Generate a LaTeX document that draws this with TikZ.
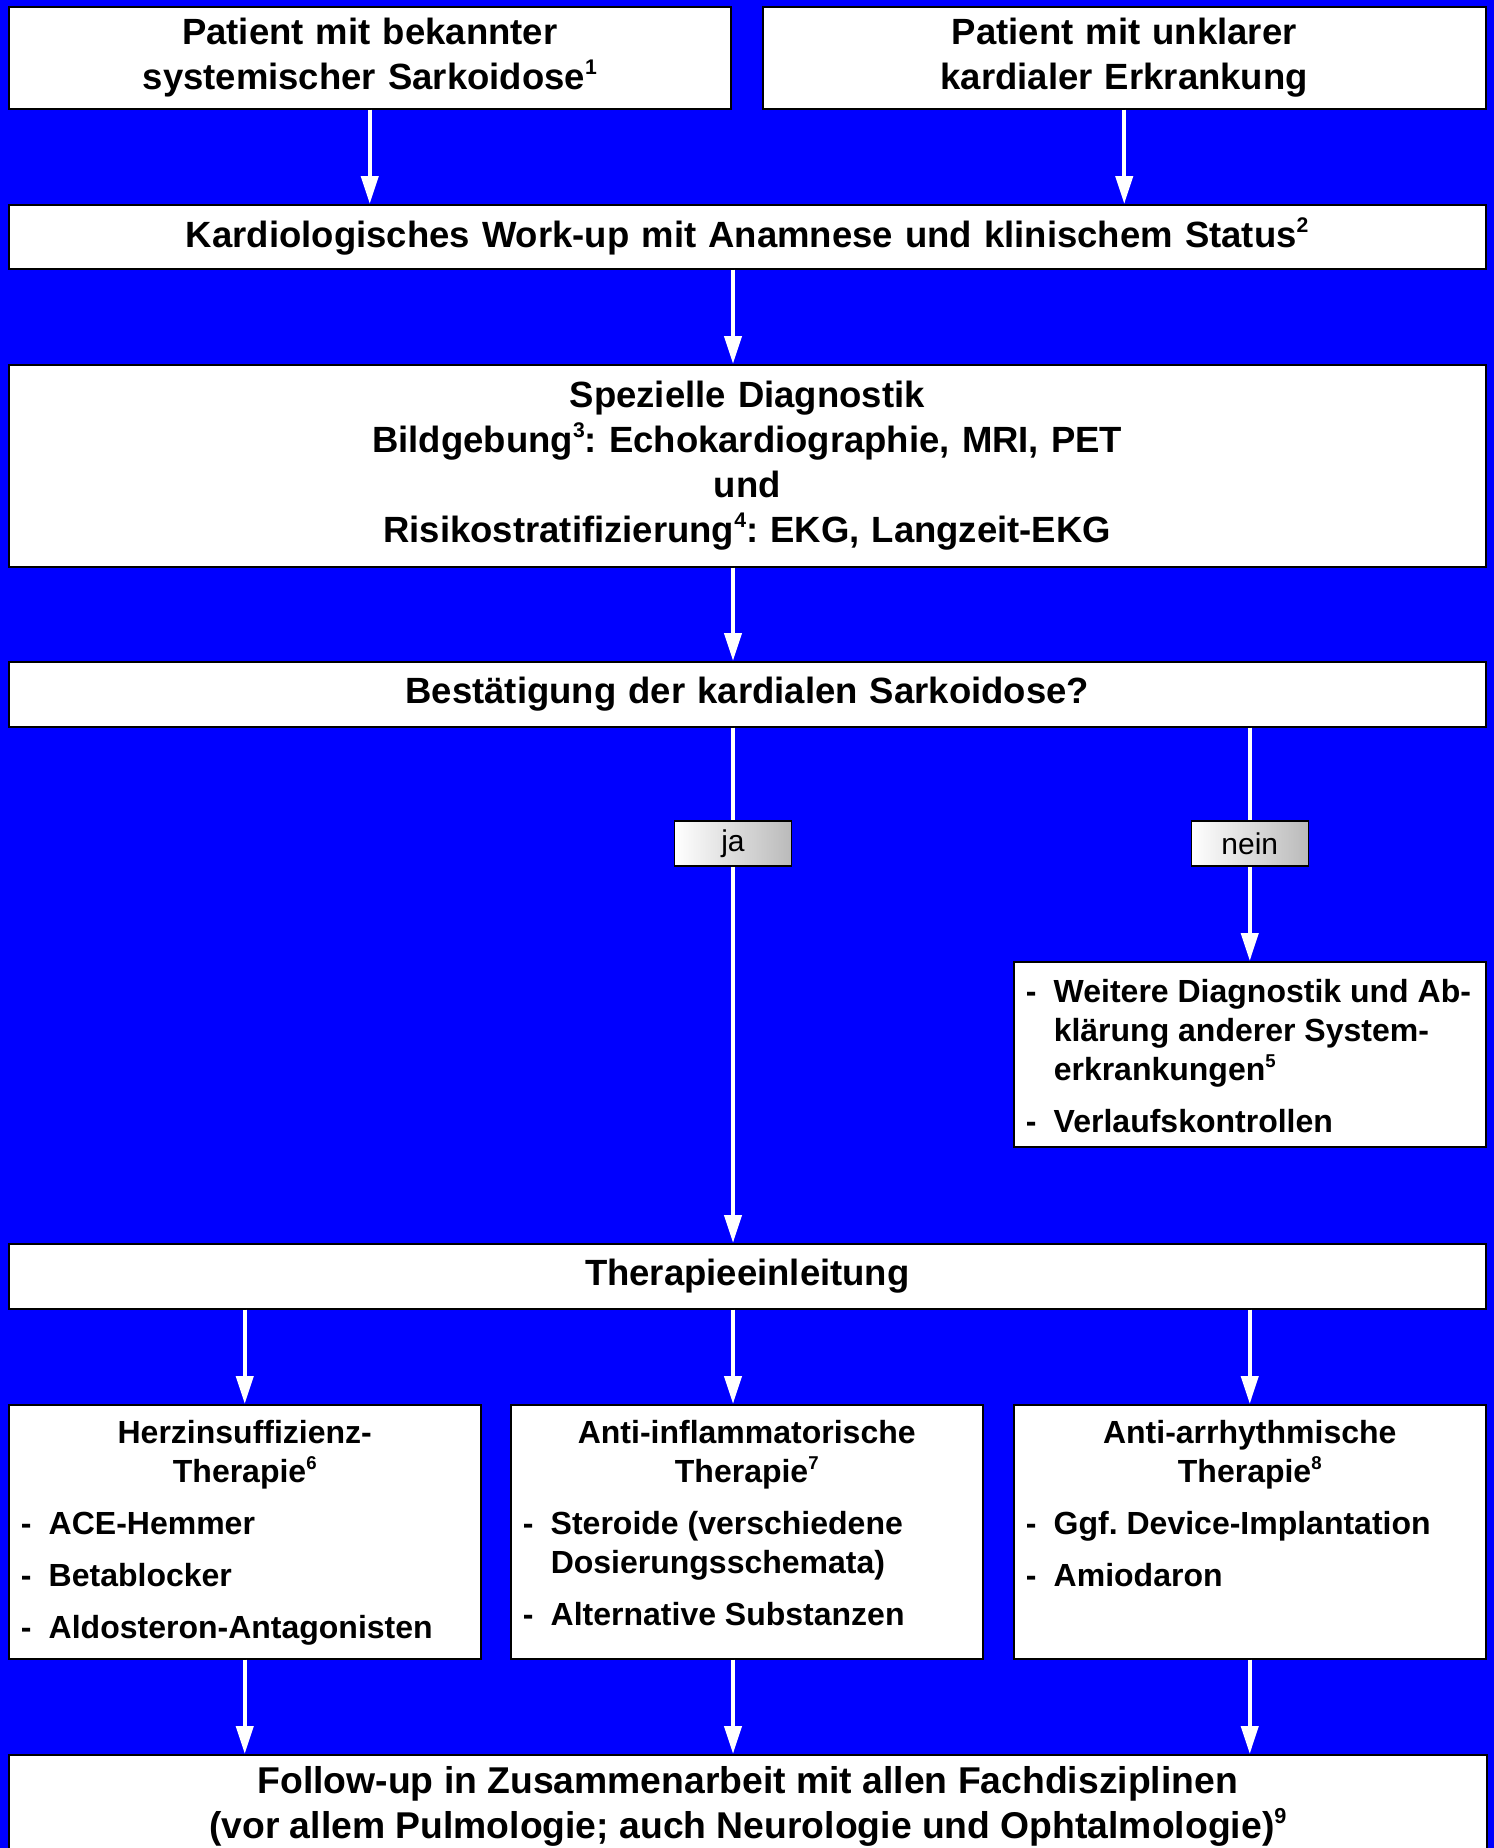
\documentclass[tikz,border=0pt]{standalone}
\usepackage{fontspec}
\setmainfont{Liberation Sans}
\usetikzlibrary{arrows.meta}

\definecolor{chartblue}{RGB}{0,0,255}
\definecolor{tabgray}{RGB}{186,186,186}

% hochgestellte Fussnotenziffer
\newcommand{\supnum}[1]{\raisebox{0.42em}{\scalebox{0.58}{#1}}}
% Aufzaehlungspunkt mit Strich
\newcommand{\dashitem}[1]{\par\vspace{13pt}\hangindent=28pt\hangafter=1\noindent\makebox[28pt][l]{-}#1}
\frenchspacing

\begin{document}
\begin{tikzpicture}[x=1pt,y=-1pt,
    box/.style={draw=black,fill=white,line width=1.5pt,anchor=north west,inner sep=0pt,
      align=center,font=\bfseries\fontsize{36.5}{45}\selectfont},
    listbox/.style={draw=black,fill=white,line width=1.5pt,anchor=north west,
      inner xsep=12pt,inner ysep=0pt,font=\bfseries\fontsize{32}{39}\selectfont},
    tab/.style={draw=black,line width=1.2pt,left color=white,right color=tabgray,
      minimum width=117pt,minimum height=45pt,inner sep=0pt,font=\fontsize{30}{36}\selectfont},
    flow/.style={draw=white,line width=4pt,-{Triangle[length=28pt,width=17pt]}}]
  \useasboundingbox (0,0) rectangle (1494,1848);
  \fill[chartblue] (0,0) rectangle (1494,1848);

  \node[box,minimum width=722pt,minimum height=102pt,text width=702pt] (known) at (8,6)
    {Patient mit bekannter\\systemischer Sarkoidose\supnum{1}};
  \node[box,minimum width=723pt,minimum height=102pt,text width=703pt] (unclear) at (762,6)
    {Patient mit unklarer\\kardialer Erkrankung};
  \node[box,minimum width=1477pt,minimum height=64pt,text width=1457pt] (workup) at (8,204)
    {Kardiologisches Work-up mit Anamnese und klinischem Status\supnum{2}};
  \node[box,minimum width=1477pt,minimum height=202pt,text width=1457pt] (diag) at (8,364)
    {Spezielle Diagnostik\\Bildgebung\supnum{3}: Echokardiographie, MRI, PET\\und\\
     Risikostratifizierung\supnum{4}: EKG, Langzeit-EKG};
  \node[box,minimum width=1477pt,minimum height=65pt,text width=1457pt] (confirm) at (8,661)
    {Bestätigung der kardialen Sarkoidose?};
  \node[listbox] (further) at (1013,961)
    {\parbox[c][185pt][t]{448pt}{\raggedright\parskip=0pt
      \hangindent=28pt\hangafter=1\noindent\rule{0pt}{41pt}\makebox[28pt][l]{-}Weitere Diagnostik und Ab-\newline
      klärung anderer System-\newline erkrankungen\supnum{5}
      \dashitem{Verlaufskontrollen}}};
  \node[box,minimum width=1477pt,minimum height=65pt,text width=1457pt] (therapy) at (8,1243)
    {Therapieeinleitung};
  \node[listbox] (heart) at (8,1404)
    {\parbox[c][254pt][t]{448pt}{\parskip=0pt
      {\centering\rule{0pt}{39pt}Herzinsuffizienz-\\Therapie\supnum{6}\par}\raggedright
      \dashitem{ACE-Hemmer}
      \dashitem{Betablocker}
      \dashitem{Aldosteron-Antagonisten}}};
  \node[listbox] (inflam) at (510,1404)
    {\parbox[c][254pt][t]{448pt}{\parskip=0pt
      {\centering\rule{0pt}{39pt}Anti-inflammatorische\\Therapie\supnum{7}\par}\raggedright
      \dashitem{Steroide (verschiedene\newline Dosierungsschemata)}
      \dashitem{Alternative Substanzen}}};
  \node[listbox] (rhythm) at (1013,1404)
    {\parbox[c][254pt][t]{448pt}{\parskip=0pt
      {\centering\rule{0pt}{39pt}Anti-arrhythmische\\Therapie\supnum{8}\par}\raggedright
      \dashitem{Ggf. Device-Implantation}
      \dashitem{Amiodaron}}};
  \node[listbox,inner xsep=10pt] (followup) at (8,1754)
    {\parbox[c][116pt][t]{1458pt}{\centering\rule{0pt}{39pt}%
      \fontsize{37.3}{45}\selectfont Follow-up in Zusammenarbeit mit allen Fachdisziplinen\\
      (vor allem Pulmologie; auch Neurologie und Ophtalmologie)\supnum{9}}};

  \coordinate (axis) at (733,843.5);

  \draw[flow] (known.south) -- (known.south |- workup.north);
  \draw[flow] (unclear.south) -- (unclear.south |- workup.north);
  \draw[flow] (workup.south -| axis) -- (diag.north -| axis);
  \draw[flow] (diag.south -| axis) -- (confirm.north -| axis);
  \draw[flow] (confirm.south -| axis) -- (therapy.north -| axis);
  \draw[flow] (confirm.south -| further.north) -- (further.north);
  \draw[flow] (therapy.south -| heart.north) -- (heart.north);
  \draw[flow] (therapy.south -| axis) -- (inflam.north -| axis);
  \draw[flow] (therapy.south -| rhythm.north) -- (rhythm.north);
  \draw[flow] (heart.south) -- (heart.south |- followup.north);
  \draw[flow] (inflam.south -| axis) -- (followup.north -| axis);
  \draw[flow] (rhythm.south) -- (rhythm.south |- followup.north);

  \node[tab] (yes) at (axis) {ja};
  \node[tab] (no) at (further.north |- axis) {nein};
\end{tikzpicture}
\end{document}
